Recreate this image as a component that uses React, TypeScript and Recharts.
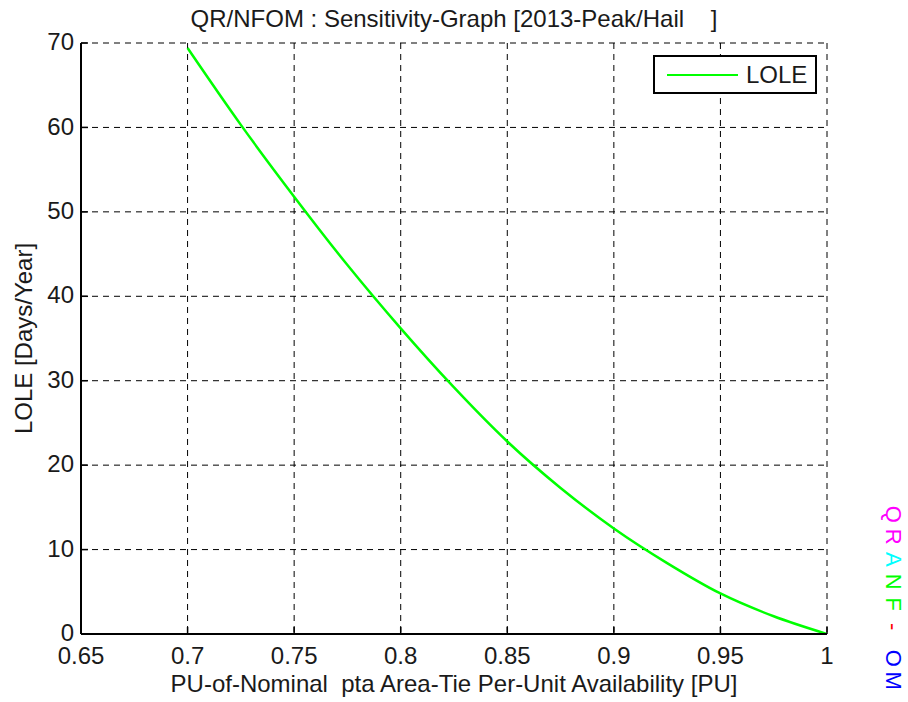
import React from "react";
import { LineChart, Line, XAxis, YAxis, CartesianGrid, Label } from "recharts";

const availability = [0.7, 0.725, 0.75, 0.775, 0.8, 0.825, 0.85, 0.875, 0.9, 0.925, 0.95, 0.975, 1.0];
const loleValues = [69.4, 60.3, 51.8, 43.7, 36.2, 29.2, 22.8, 17.3, 12.5, 8.4, 4.8, 2.1, 0];
const xTicks = [0.65, 0.7, 0.75, 0.8, 0.85, 0.9, 0.95, 1];
const yTicks = [0, 10, 20, 30, 40, 50, 60, 70];

const titleText = "QR/NFOM : Sensitivity-Graph [2013-Peak/Hail    ]";
const xLabelText = "PU-of-Nominal  pta Area-Tie Per-Unit Availability [PU]";
const yLabelText = "LOLE [Days/Year]";
const seriesName = "LOLE";
const watermark = [
  { ch: "Q", color: "#ff00ff" },
  { ch: "R", color: "#ff00ff" },
  { ch: "A", color: "#00ffff" },
  { ch: "N", color: "#00ff00" },
  { ch: "F", color: "#00ff00" },
  { ch: "-", color: "#ff0000" },
  { ch: " ", color: "#000" },
  { ch: "O", color: "#0000ff" },
  { ch: "M", color: "#0000ff" },
];

const data = availability.map((x, i) => ({ x, lole: loleValues[i] }));

const FONT = "'Liberation Sans', Arial, Helvetica, sans-serif";
const TXT = "#1a1a1a";
const FS = 24;
const TICK_LEN = 7;
const X_MARGIN = 13;
const Y_MARGIN = 7;

const BottomTick = (props: any) => {
  const { x, y, payload } = props;
  const axisY = y - X_MARGIN;
  return (
    <g>
      <line x1={x} x2={x} y1={axisY} y2={axisY - TICK_LEN} stroke="#000" strokeWidth={1.5} />
      <text x={x} y={y} dy="0.7em" textAnchor="middle" fontFamily={FONT} fontSize={FS} fill={TXT}>
        {String(payload.value)}
      </text>
    </g>
  );
};

const TopTick = (props: any) => {
  const { x, y } = props;
  return <line x1={x} x2={x} y1={y} y2={y + TICK_LEN} stroke="#000" strokeWidth={1.5} />;
};

const LeftTick = (props: any) => {
  const { x, y, payload } = props;
  const axisX = x + Y_MARGIN;
  return (
    <g>
      <line x1={axisX} x2={axisX + TICK_LEN} y1={y} y2={y} stroke="#000" strokeWidth={1.5} />
      <text x={x} y={y} dy="0.3em" textAnchor="end" fontFamily={FONT} fontSize={FS} fill={TXT}>
        {String(payload.value)}
      </text>
    </g>
  );
};

const RightTick = (props: any) => {
  const { x, y } = props;
  return <line x1={x - TICK_LEN} x2={x} y1={y} y2={y} stroke="#000" strokeWidth={1.5} />;
};

const XLabel = (props: any) => {
  const vb = props.viewBox || {};
  return (
    <text
      x={vb.x + vb.width / 2}
      y={vb.y + 58}
      textAnchor="middle"
      fontFamily={FONT}
      fontSize={FS}
      fill={TXT}
      style={{ whiteSpace: "pre" }}
    >
      {xLabelText}
    </text>
  );
};

const YLabel = (props: any) => {
  const vb = props.viewBox || {};
  const cx = vb.x + 32;
  const cy = vb.y + vb.height / 2;
  return (
    <text
      x={cx}
      y={cy}
      transform={`rotate(-90 ${cx} ${cy})`}
      textAnchor="middle"
      fontFamily={FONT}
      fontSize={FS}
      fill={TXT}
    >
      {yLabelText}
    </text>
  );
};

export default function App() {
  return (
    <div style={{ position: "absolute", left: 0, top: 0, width: 908, height: 702, background: "#fff", fontFamily: FONT }}>
      <LineChart width={908} height={702} data={data} margin={{ top: 43, right: 81, bottom: 0, left: 0 }}>
        <CartesianGrid stroke="#000" strokeDasharray="6 5" strokeWidth={1} />
        <XAxis
          dataKey="x"
          type="number"
          domain={[0.65, 1]}
          ticks={xTicks}
          height={68}
          tickSize={0}
          tickMargin={X_MARGIN}
          tick={<BottomTick />}
          tickLine={false}
          axisLine={{ stroke: "#000", strokeWidth: 2 }}
          interval={0}
          allowDataOverflow
        >
          <Label content={<XLabel />} />
        </XAxis>
        <XAxis
          xAxisId="top"
          orientation="top"
          dataKey="x"
          type="number"
          domain={[0.65, 1]}
          ticks={xTicks}
          height={0}
          tickSize={0}
          tickMargin={0}
          tick={<TopTick />}
          tickLine={false}
          axisLine={{ stroke: "#000", strokeWidth: 2 }}
          interval={0}
          allowDataOverflow
        />
        <YAxis
          type="number"
          domain={[0, 70]}
          ticks={yTicks}
          width={81}
          tickSize={0}
          tickMargin={Y_MARGIN}
          tick={<LeftTick />}
          tickLine={false}
          axisLine={{ stroke: "#000", strokeWidth: 2 }}
          interval={0}
          allowDataOverflow
        >
          <Label content={<YLabel />} />
        </YAxis>
        <YAxis
          yAxisId="right"
          orientation="right"
          type="number"
          domain={[0, 70]}
          ticks={yTicks}
          width={0}
          tickSize={0}
          tickMargin={0}
          tick={<RightTick />}
          tickLine={false}
          axisLine={{ stroke: "#000", strokeWidth: 2 }}
          interval={0}
          allowDataOverflow
        />
        <Line
          type="monotone"
          dataKey="lole"
          name={seriesName}
          stroke="#00ff00"
          strokeWidth={2.5}
          dot={false}
          isAnimationActive={false}
        />
      </LineChart>

      <div
        style={{
          position: "absolute",
          left: 454,
          top: 7,
          transform: "translateX(-50%)",
          fontSize: FS,
          lineHeight: "24px",
          color: TXT,
          whiteSpace: "pre",
        }}
      >
        {titleText}
      </div>

      <div
        style={{
          position: "absolute",
          left: 653,
          top: 55,
          width: 164,
          height: 39,
          boxSizing: "border-box",
          border: "2px solid #000",
          background: "#fff",
        }}
      >
        <div style={{ position: "absolute", left: 12, top: 17, width: 71, height: 0, borderTop: "2.5px solid #00ff00" }} />
        <div style={{ position: "absolute", left: 91, top: 5, fontSize: FS, lineHeight: "26px", color: TXT }}>{seriesName}</div>
      </div>

      <div
        style={{
          position: "absolute",
          left: 893,
          top: 503,
          transformOrigin: "0 0",
          transform: "rotate(90deg) translateY(-50%)",
          display: "flex",
          fontSize: 22,
          lineHeight: "22px",
          whiteSpace: "pre",
        }}
      >
        {watermark.map((w, i) => (
          <span
            key={i}
            style={{ display: "inline-block", width: w.ch === " " ? 9 : 22.5, textAlign: "center", color: w.color }}
          >
            {w.ch}
          </span>
        ))}
      </div>
    </div>
  );
}
